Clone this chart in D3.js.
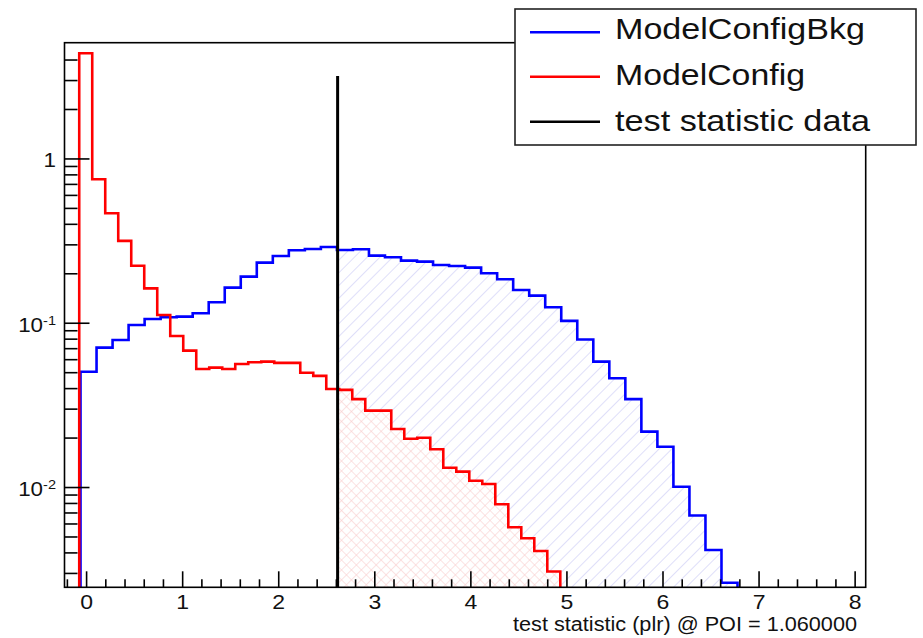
<!DOCTYPE html>
<html><head><meta charset="utf-8">
<script src="https://cdn.jsdelivr.net/npm/d3@7"></script>
<style>body{margin:0;background:#fff}svg{display:block}</style>
</head><body>
<svg id="c" width="923" height="638"></svg>
<script>
// ---- data ----
const blueRange = [-0.23, 8.11];
const blueValues = [0, 0.0507, 0.0710, 0.0791, 0.0976, 0.1062, 0.1087, 0.1097, 0.1151, 0.1342,
  0.1647, 0.1921, 0.2337, 0.2568, 0.2781, 0.2832, 0.2913, 0.2793, 0.2821, 0.2579,
  0.2522, 0.2404, 0.2371, 0.2263, 0.2232, 0.2181, 0.2015, 0.1853, 0.1595, 0.1472,
  0.1252, 0.1033, 0.0797, 0.0584, 0.0463, 0.0345, 0.0219, 0.0177, 0.0101, 0.00675,
  0.00417, 0.00263, 0, 0, 0, 0, 0, 0, 0, 0];
const redRange = [-0.212, 6.555];
const redValues = [0, 4.40, 0.752, 0.467, 0.317, 0.224, 0.163, 0.1123, 0.0837, 0.0681,
  0.0527, 0.0537, 0.0527, 0.0565, 0.0579, 0.0584, 0.0574, 0.0574, 0.0500, 0.0478,
  0.0398, 0.0393, 0.0345, 0.0294, 0.0294, 0.0227, 0.0198, 0.0201, 0.0171, 0.0132,
  0.0125, 0.0110, 0.0105, 0.00791, 0.00573, 0.00491, 0.00411, 0.00308, 0, 0,
  0, 0, 0, 0, 0, 0, 0, 0, 0, 0];
const testStatValue = 2.613;
const testStatHeight = 3.2;
const xTickValues = [0, 1, 2, 3, 4, 5, 6, 7, 8];
const yMajorTicks = [0.01, 0.1, 1];
const yTickLabels = [["10", "-2"], ["10", "-1"], ["1", ""]];
const legendLabels = ["ModelConfigBkg", "ModelConfig", "test statistic data"];
const legendColors = ["#0000ff", "#ff0000", "#000000"];
const xTitle = "test statistic (plr) @ POI = 1.060000";
const yDomain = [0.00247, 5.1];

// ---- layout ----
const L = 64.5, R = 865.7, T = 42.7, B = 587.3;
const FONT = "'Liberation Sans', Arial, Helvetica, sans-serif";
const svg = d3.select("#c");
const x = d3.scaleLinear().domain(blueRange).range([L, R]);
const y = d3.scaleLog().domain(yDomain).range([B, T]);
const yv = v => v > yDomain[0] ? y(v) : B + 2;

const defs = svg.append("defs");
defs.append("clipPath").attr("id", "frame").append("rect")
  .attr("x", L).attr("y", T).attr("width", R - L).attr("height", B - T);
const pb = defs.append("pattern").attr("id", "hatchBlue").attr("patternUnits", "userSpaceOnUse")
  .attr("width", 9).attr("height", 9).attr("patternTransform", "rotate(45)");
pb.append("line").attr("x1", 0).attr("y1", 0).attr("x2", 0).attr("y2", 9)
  .attr("stroke", "#c9c9f5").attr("stroke-width", 1.2);
const pr = defs.append("pattern").attr("id", "hatchRed").attr("patternUnits", "userSpaceOnUse")
  .attr("width", 7).attr("height", 7).attr("patternTransform", "rotate(45)");
pr.append("line").attr("x1", 0).attr("y1", 0).attr("x2", 0).attr("y2", 7)
  .attr("stroke", "#f7c6c6").attr("stroke-width", 1);
pr.append("line").attr("x1", 0).attr("y1", 0).attr("x2", 7).attr("y2", 0)
  .attr("stroke", "#f7c6c6").attr("stroke-width", 1);

function bins(range, vals) {
  const w = (range[1] - range[0]) / vals.length;
  return vals.map((v, i) => ({ lo: range[0] + i * w, hi: range[0] + (i + 1) * w, v }));
}
function stepPts(bs) {
  const pts = [];
  bs.forEach(b => { pts.push([b.lo, b.v]); pts.push([b.hi, b.v]); });
  return pts;
}
function tailPts(bs, cut) {
  const pts = [];
  bs.forEach(b => {
    if (b.hi <= cut) return;
    const lo = Math.max(b.lo, cut);
    pts.push([lo, b.v]); pts.push([b.hi, b.v]);
  });
  return pts;
}
const blueBins = bins(blueRange, blueValues);
const redBins = bins(redRange, redValues);

const g = svg.append("g").attr("clip-path", "url(#frame)");
const area = d3.area().x(d => x(d[0])).y0(B).y1(d => yv(d[1]));
const line = d3.line().x(d => x(d[0])).y(d => yv(d[1]));

g.append("path").attr("d", area(tailPts(blueBins, testStatValue))).attr("fill", "url(#hatchBlue)");
g.append("path").attr("d", area(tailPts(redBins, testStatValue))).attr("fill", "#fff");
g.append("path").attr("d", area(tailPts(redBins, testStatValue))).attr("fill", "url(#hatchRed)");
g.append("path").attr("d", line(stepPts(blueBins))).attr("fill", "none")
  .attr("stroke", "#0000ff").attr("stroke-width", 2.6);
g.append("path").attr("d", line(stepPts(redBins))).attr("fill", "none")
  .attr("stroke", "#ff0000").attr("stroke-width", 2.6);
g.append("line").attr("x1", x(testStatValue)).attr("x2", x(testStatValue))
  .attr("y1", y(testStatHeight)).attr("y2", B)
  .attr("stroke", "#000").attr("stroke-width", 3);

// ---- axes ----
const ax = svg.append("g").attr("stroke", "#000").attr("stroke-width", 1.6);
ax.append("rect").attr("x", L).attr("y", T).attr("width", R - L).attr("height", B - T).attr("fill", "none");
// x ticks
const xMinor = d3.range(-0.2, 8.11, 0.2).map(v => Math.round(v * 10) / 10)
  .filter(v => Math.abs(v - Math.round(v)) > 1e-6);
xMinor.forEach(v => ax.append("line").attr("x1", x(v)).attr("x2", x(v)).attr("y1", B).attr("y2", B - 8));
xTickValues.forEach(v => ax.append("line").attr("x1", x(v)).attr("x2", x(v)).attr("y1", B).attr("y2", B - 16));
// y ticks
const yMinor = [];
[0.001, 0.01, 0.1, 1].forEach(d => { for (let k = 2; k <= 9; k++) { const v = k * d; if (v > yDomain[0] && y(v) > T + 3) yMinor.push(v); } });
yMinor.forEach(v => ax.append("line").attr("x1", L).attr("x2", L + 13).attr("y1", y(v)).attr("y2", y(v)));
yMajorTicks.forEach(v => ax.append("line").attr("x1", L).attr("x2", L + 25).attr("y1", y(v)).attr("y2", y(v)));

// labels
const lab = svg.append("g").attr("font-family", FONT).attr("fill", "#111");
xTickValues.forEach(v => lab.append("text")
  .attr("transform", `translate(${x(v)},609) scale(1.15,1)`)
  .attr("text-anchor", "middle").attr("font-size", 20).text(v));
yMajorTicks.forEach((v, i) => {
  const t = lab.append("text").attr("transform", `translate(56,${y(v) + 8.5}) scale(1.12,1)`)
    .attr("text-anchor", "end").attr("font-size", 20);
  t.append("tspan").text(yTickLabels[i][0]);
  if (yTickLabels[i][1]) t.append("tspan").attr("font-size", 13).attr("dy", -7).text(yTickLabels[i][1]);
});
lab.append("text").attr("x", 857).attr("y", 631).attr("text-anchor", "end")
  .attr("font-size", 20).attr("textLength", 344).attr("lengthAdjust", "spacingAndGlyphs").text(xTitle);

// ---- legend ----
const lg = svg.append("g");
lg.append("rect").attr("x", 515).attr("y", 9).attr("width", 401).attr("height", 136)
  .attr("fill", "#fff").attr("stroke", "#222").attr("stroke-width", 1.6);
const lw = [250, 190, 255];
legendLabels.forEach((s, i) => {
  const ly = [32.3, 76.7, 121.7][i];
  lg.append("line").attr("x1", 530).attr("x2", 600).attr("y1", ly).attr("y2", ly)
    .attr("stroke", legendColors[i]).attr("stroke-width", 2.4);
  lg.append("text").attr("x", 615).attr("y", [39.3, 85, 130.5][i]).attr("font-family", FONT)
    .attr("font-size", 29).attr("fill", "#111").attr("textLength", lw[i])
    .attr("lengthAdjust", "spacingAndGlyphs").text(s);
});
</script>
</body></html>
